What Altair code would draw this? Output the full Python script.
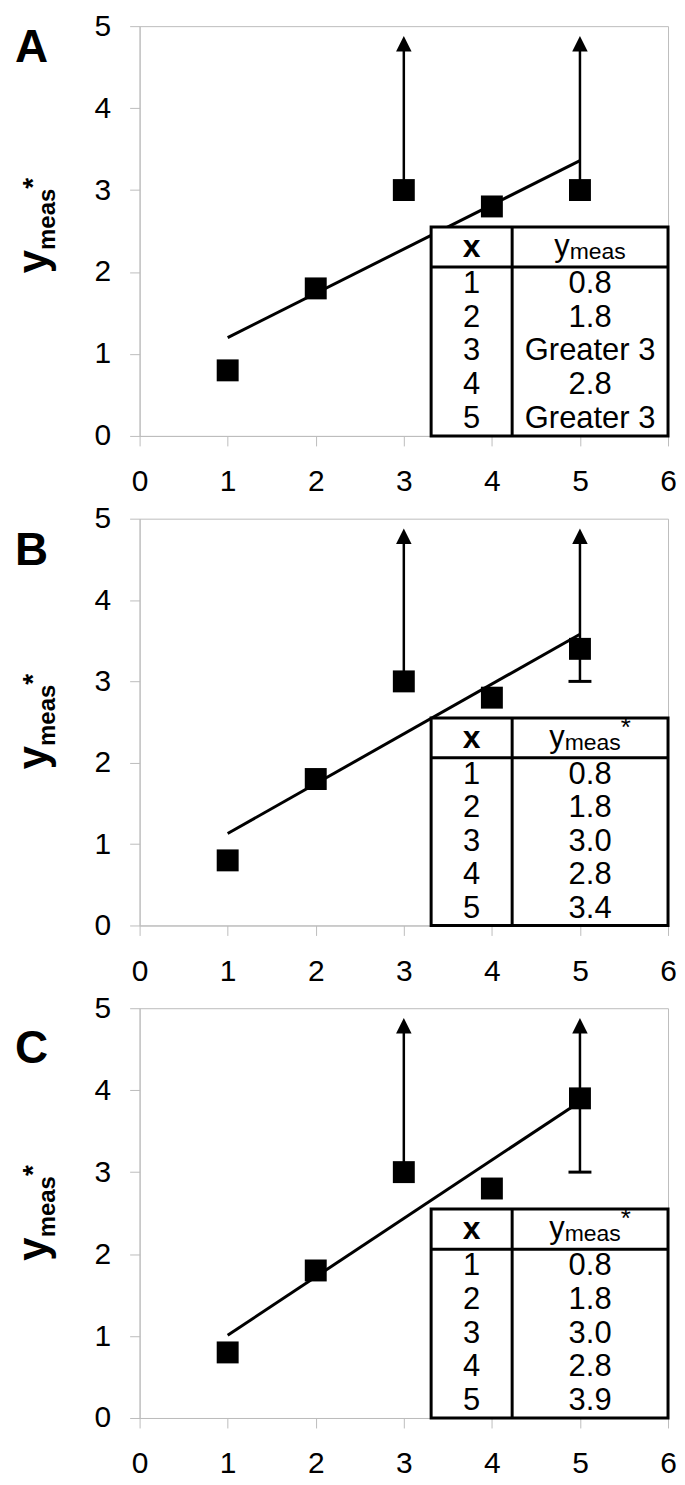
import altair as alt
import pandas as pd

# ---------------- data ----------------
PANEL_LETTERS = ["A", "B", "C"]
X_VALUES = [1, 2, 3, 4, 5]
Y_A = [0.8, 1.8, 3.0, 2.8, 3.0]
Y_B = [0.8, 1.8, 3.0, 2.8, 3.4]
Y_C = [0.8, 1.8, 3.0, 2.8, 3.9]
TABLE_A = ["0.8", "1.8", "Greater 3", "2.8", "Greater 3"]
TABLE_B = ["0.8", "1.8", "3.0", "2.8", "3.4"]
TABLE_C = ["0.8", "1.8", "3.0", "2.8", "3.9"]
FIT_X = [1, 5]
FIT_A = [1.20, 3.36]
FIT_B = [1.13, 3.58]
FIT_C = [1.01, 3.86]
CENSORED_X = [3, 5]
CENSOR_LOWER = [3.0, 3.0]
ARROW_TIP = 4.88
CAP_X = [5]
CAP_Y = [3.0]
X_TICKS = [0, 1, 2, 3, 4, 5, 6]
Y_TICKS = [0, 1, 2, 3, 4, 5]

# table frame in data units
T_LEFT, T_MID, T_RIGHT = 3.31, 4.23, 6.0
T_BOTTOM, T_HEAD, T_TOP = 0.0, 2.06, 2.55

FONT = "Liberation Sans"
GRID = "#bdbdbd"
ARROW_PATH = "M0,0L1,2L-1,2Z"

xs = alt.Scale(domain=[0, 6], nice=False, zero=False)
ys = alt.Scale(domain=[0, 5], nice=False, zero=False)
AX_X = alt.Axis(values=X_TICKS, labelPadding=21, format="d", title=None)
AX_Y = alt.Axis(values=Y_TICKS, labelPadding=19, format="d", title=None)


def X(f="x"):
    return alt.X(f"{f}:Q", scale=xs, axis=AX_X)


def Y(f="y"):
    return alt.Y(f"{f}:Q", scale=ys, axis=AX_Y)


def panel(letter, yvals, tvals, fit, cap, star, height, letter_base, title_frac):
    pts = pd.DataFrame({"x": X_VALUES, "y": yvals})
    squares = alt.Chart(pts).mark_square(size=484, color="black", opacity=1).encode(x=X(), y=Y())
    fitdf = pd.DataFrame({"x": FIT_X, "y": fit})
    line = alt.Chart(fitdf).mark_line(color="black", strokeWidth=3).encode(x=X(), y=Y())

    arr = pd.DataFrame({"x": CENSORED_X, "y": CENSOR_LOWER,
                        "top": [ARROW_TIP - 0.1] * len(CENSORED_X),
                        "tip": [ARROW_TIP] * len(CENSORED_X)})
    shaft = alt.Chart(arr).mark_rule(color="black", strokeWidth=2.5).encode(
        x=X(), y=Y(), y2="top:Q")
    head = alt.Chart(arr).mark_point(shape=ARROW_PATH, size=240, filled=True,
                                     color="black", opacity=1, strokeWidth=0).encode(
        x=X(), y=Y("tip"))

    layers = [line, shaft, head]
    if cap:
        capdf = pd.DataFrame({"x": CAP_X, "y": CAP_Y})
        layers.append(alt.Chart(capdf).mark_tick(orient="horizontal", size=23, thickness=3,
                                                 color="black", opacity=1).encode(x=X(), y=Y()))
    layers.append(squares)

    # table
    frame = pd.DataFrame({"x": [T_LEFT], "x2": [T_RIGHT], "y": [T_BOTTOM], "y2": [T_TOP]})
    layers.append(alt.Chart(frame).mark_rect(fill="white", stroke="black", strokeWidth=3).encode(
        x=X(), x2="x2:Q", y=Y(), y2="y2:Q"))
    hl = pd.DataFrame({"x": [T_LEFT], "x2": [T_RIGHT], "y": [T_HEAD]})
    layers.append(alt.Chart(hl).mark_rule(color="black", strokeWidth=3).encode(
        x=X(), x2="x2:Q", y=Y()))
    vl = pd.DataFrame({"x": [T_MID], "y": [T_BOTTOM], "y2": [T_TOP]})
    layers.append(alt.Chart(vl).mark_rule(color="black", strokeWidth=3).encode(
        x=X(), y=Y(), y2="y2:Q"))

    row_h = (T_HEAD - T_BOTTOM) / len(X_VALUES)
    rows = pd.DataFrame({
        "c1": [(T_LEFT + T_MID) / 2] * len(X_VALUES),
        "c2": [(T_MID + T_RIGHT) / 2] * len(X_VALUES),
        "y": [T_HEAD - (i + 0.5) * row_h for i in range(len(X_VALUES))],
        "xl": [str(v) for v in X_VALUES],
        "v": tvals,
    })
    layers.append(alt.Chart(rows).mark_text(font=FONT, fontSize=31, baseline="middle",
                                            align="center", color="black").encode(
        x=X("c1"), y=Y(), text="xl:N"))
    layers.append(alt.Chart(rows).mark_text(font=FONT, fontSize=31, baseline="middle",
                                            align="center", color="black").encode(
        x=X("c2"), y=Y(), text="v:N"))

    hy = (T_HEAD + T_TOP) / 2
    hdr = pd.DataFrame({"c1": [(T_LEFT + T_MID) / 2], "c2": [(T_MID + T_RIGHT) / 2], "y": [hy]})
    layers.append(alt.Chart(hdr).mark_text(text="x", font=FONT, fontSize=32, fontWeight="bold",
                                           baseline="middle", align="center", color="black").encode(
        x=X("c1"), y=Y()))
    w_y, w_meas, w_star = 0.5 * 31, 2.445 * 23, 0.389 * 26
    total = w_y + w_meas + (w_star if star else 0)
    start = -total / 2
    layers.append(alt.Chart(hdr).mark_text(text="y", font=FONT, fontSize=31, baseline="middle",
                                           align="left", dx=start, color="black").encode(
        x=X("c2"), y=Y()))
    layers.append(alt.Chart(hdr).mark_text(text="meas", font=FONT, fontSize=23, baseline="middle",
                                           align="left", dx=start + w_y, dy=5, color="black").encode(
        x=X("c2"), y=Y()))
    if star:
        layers.append(alt.Chart(hdr).mark_text(text="*", font=FONT, fontSize=26, baseline="middle",
                                               align="left", dx=start + w_y + w_meas, dy=-10,
                                               color="black").encode(x=X("c2"), y=Y()))

    # panel letter
    lab = pd.DataFrame({"t": [letter]})
    layers.append(alt.Chart(lab).mark_text(font=FONT, fontSize=46, fontWeight="bold", align="left",
                                           baseline="alphabetic", color="black").encode(
        x=alt.value(-125), y=alt.value(letter_base), text="t:N"))

    # rotated axis title  y_meas*
    y0 = title_frac * height
    common = dict(font=FONT, fontWeight="bold", align="left", baseline="alphabetic", color="black")
    layers.append(alt.Chart(lab).mark_text(text="y", fontSize=42, **common).encode(
        x=alt.value(-93), y=alt.value(y0), angle=alt.value(270)))
    layers.append(alt.Chart(lab).mark_text(text="meas", fontSize=24, dx=23.4, dy=8, **common).encode(
        x=alt.value(-93), y=alt.value(y0), angle=alt.value(270)))
    layers.append(alt.Chart(lab).mark_text(text="*", fontSize=28, dx=23.4 + 61.4, dy=-5, **common).encode(
        x=alt.value(-93), y=alt.value(y0), angle=alt.value(270)))

    return alt.layer(*layers).properties(width=530, height=height)


pA = panel("A", Y_A, TABLE_A, FIT_A, False, False, 411, 36, 0.603)
pB = panel("B", Y_B, TABLE_B, FIT_B, True, True, 408, 46, 0.616)
pC = panel("C", Y_C, TABLE_C, FIT_C, True, True, 411, 55, 0.616)

chart = alt.vconcat(pA, pB, pC, spacing=5).properties(
    padding={"left": 4, "top": 0, "right": 0, "bottom": 0}
).configure_axis(
    labelFont=FONT, labelFontSize=30, labelColor="black", domainColor=GRID, tickColor=GRID,
    tickSize=10, grid=False, labelFlush=False, labelOverlap=False, domainWidth=1,
).configure_view(stroke=GRID, strokeWidth=1)

chart.save("out.html", embed_options={"renderer": "svg", "actions": False})
